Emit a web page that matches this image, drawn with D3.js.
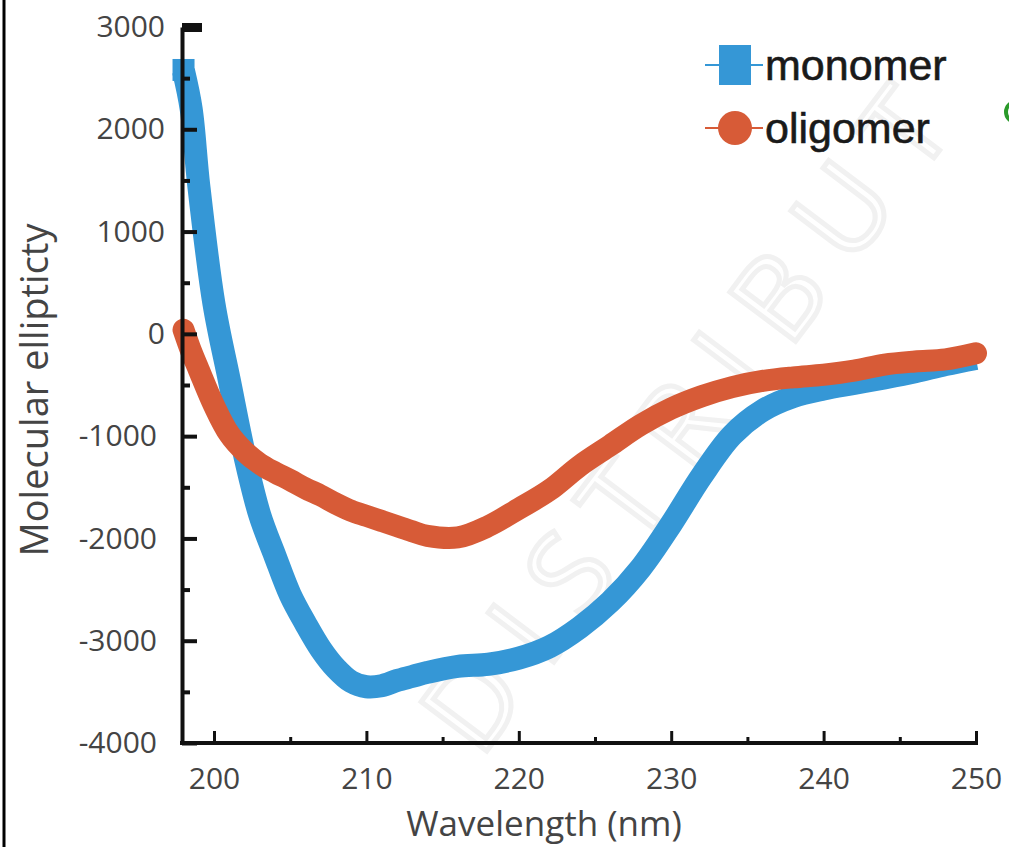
<!DOCTYPE html>
<html>
<head>
<meta charset="utf-8">
<script src="https://cdn.jsdelivr.net/npm/d3@7"></script>
<style>
  body { margin: 0; background: #fff; }
  svg { display: block; }
  .tick text { font-family: "Open Sans", sans-serif; fill: #444; }
</style>
</head>
<body>
<svg id="chart" width="1009" height="847"></svg>
<script>
// CD spectra
var wavelength = [198, 198.5, 199, 200, 201, 202, 203, 204, 205, 206, 207, 208, 209, 210, 211, 212, 213, 214,
                  216, 218, 220, 222, 224, 226, 228, 230, 232, 234, 236, 238, 240, 242, 244, 246, 248, 250];
var monomer = [2570, 2200, 1450, 290, -450, -1180, -1770, -2170, -2550, -2830, -3080, -3270, -3400, -3450, -3440, -3390, -3350, -3310,
               -3250, -3230, -3170, -3060, -2870, -2620, -2290, -1860, -1390, -990, -750, -615, -540, -485, -430, -370, -300, -240];
var oligomer = [40, -170, -350, -700, -980, -1150, -1270, -1355, -1430, -1510, -1580, -1660, -1730, -1780, -1830, -1880, -1930, -1975,
                -1990, -1880, -1710, -1530, -1290, -1090, -890, -730, -610, -520, -460, -425, -400, -360, -300, -270, -250, -190];

var xMajor = [200, 210, 220, 230, 240, 250];
var xMinor = [205, 215, 225, 235, 245];
var yMajor = [-4000, -3000, -2000, -1000, 0, 1000, 2000, 3000];
var yMinor = [-3500, -2500, -1500, -500, 500, 1500, 2500];

var seriesNames = ["monomer", "oligomer"];
var seriesColors = ["#3597d6", "#d75b37"];

var svg = d3.select("#chart");

svg.append("rect").attr("width", 1009).attr("height", 847).attr("fill", "#fff");

// faint watermark
svg.append("text")
    .attr("transform", "translate(480,760) rotate(-53)")
    .attr("font-family", "Open Sans, sans-serif")
    .attr("font-size", 115)
    .attr("letter-spacing", 28)
    .attr("fill", "none")
    .attr("stroke", "#f1f1f1")
    .attr("stroke-width", 5)
    .text("DISTRIBUT");

// left frame line
svg.append("line")
    .attr("x1", 4).attr("x2", 4).attr("y1", 0).attr("y2", 847)
    .attr("stroke", "#000").attr("stroke-width", 3);

var x = d3.scaleLinear().domain([197.9, 250]).range([182, 976]);
var y = d3.scaleLinear().domain([-4000, 3000]).range([743, 27]);

// lines
var line = d3.line()
    .x(function(d) { return x(d[0]); })
    .y(function(d) { return y(d[1]); })
    .curve(d3.curveCatmullRom);

var monoPts = wavelength.map(function(w, i) { return [w, monomer[i]]; });
var oligoPts = wavelength.map(function(w, i) { return [w, oligomer[i]]; });

svg.append("path")
    .datum(monoPts)
    .attr("d", line)
    .attr("fill", "none")
    .attr("stroke", seriesColors[0])
    .attr("stroke-width", 23)
    .attr("stroke-linecap", "butt");

// square marker at start of monomer trace
svg.append("rect")
    .attr("x", x(monoPts[0][0]) - 11)
    .attr("y", y(monoPts[0][1]) - 12)
    .attr("width", 22).attr("height", 22)
    .attr("fill", seriesColors[0]);

svg.append("path")
    .datum(oligoPts)
    .attr("d", line)
    .attr("fill", "none")
    .attr("stroke", seriesColors[1])
    .attr("stroke-width", 22)
    .attr("stroke-linecap", "round");

// axes
var fmt = function(d) { return String(d); };

var yAxis = svg.append("g")
    .attr("transform", "translate(182,0)")
    .call(d3.axisLeft(y).tickValues(yMajor).tickFormat(fmt).tickSize(-15).tickSizeOuter(0).tickPadding(17));
yAxis.selectAll(".tick text")
    .attr("font-size", 30)
    .attr("dx", function(d) { return d < 0 ? -8 : 0; });
yAxis.selectAll(".tick line").attr("stroke", "#111").attr("stroke-width", 4);
yAxis.select(".domain").attr("stroke", "#111").attr("stroke-width", 4);
// heavier cap tick at top
yAxis.selectAll(".tick").filter(function(d) { return d === 3000; })
    .select("line").attr("stroke-width", 9).attr("x2", 20);

svg.append("g")
    .attr("transform", "translate(182,0)")
    .call(d3.axisLeft(y).tickValues(yMinor).tickFormat("").tickSize(-8).tickSizeOuter(0))
    .call(function(g) { g.select(".domain").remove(); })
    .selectAll("line").attr("stroke", "#111").attr("stroke-width", 4);

var xAxis = svg.append("g")
    .attr("transform", "translate(0,743)")
    .call(d3.axisBottom(x).tickValues(xMajor).tickFormat(fmt).tickSize(-12).tickSizeOuter(0).tickPadding(25));
xAxis.selectAll(".tick text").attr("font-size", 30);
xAxis.selectAll(".tick line").attr("stroke", "#111").attr("stroke-width", 3);
xAxis.select(".domain").attr("stroke", "#111").attr("stroke-width", 4)
    .attr("d", "M180,0H978");

svg.append("g")
    .attr("transform", "translate(0,743)")
    .call(d3.axisBottom(x).tickValues(xMinor).tickFormat("").tickSize(-6).tickSizeOuter(0))
    .call(function(g) { g.select(".domain").remove(); })
    .selectAll("line").attr("stroke", "#111").attr("stroke-width", 3);

// axis titles
svg.append("text")
    .attr("x", 544).attr("y", 836)
    .attr("text-anchor", "middle")
    .attr("font-family", "Open Sans, sans-serif")
    .attr("font-size", 35)
    .attr("fill", "#444")
    .text("Wavelength (nm)");

svg.append("text")
    .attr("transform", "translate(48,390) rotate(-90)")
    .attr("text-anchor", "middle")
    .attr("font-family", "Open Sans, sans-serif")
    .attr("font-size", 38)
    .attr("fill", "#444")
    .text("Molecular ellipticty");

// legend
var legend = svg.append("g").attr("transform", "translate(705,0)");
var legendY = [65, 128];

seriesNames.forEach(function(name, i) {
    var g = legend.append("g").attr("transform", "translate(0," + legendY[i] + ")");
    g.append("line")
        .attr("x1", 0).attr("x2", 58)
        .attr("stroke", seriesColors[i]).attr("stroke-width", 2);
    if (i === 0) {
        g.append("rect")
            .attr("x", 14).attr("y", -20)
            .attr("width", 32).attr("height", 40)
            .attr("fill", seriesColors[i]);
    } else {
        g.append("circle")
            .attr("cx", 30).attr("cy", 0).attr("r", 17)
            .attr("fill", seriesColors[i]);
    }
    g.append("text")
        .attr("x", 60).attr("y", 0).attr("dy", "0.35em")
        .attr("font-family", "Liberation Sans, Arial, sans-serif")
        .attr("font-size", 43)
        .attr("fill", "#1a1a1a")
        .attr("stroke", "#1a1a1a")
        .attr("stroke-width", 0.6)
        .text(name);
});

// partial green mark at right edge
svg.append("circle")
    .attr("cx", 1016).attr("cy", 112).attr("r", 10)
    .attr("fill", "none").attr("stroke", "#2a9a2a").attr("stroke-width", 4);
</script>
</body>
</html>
